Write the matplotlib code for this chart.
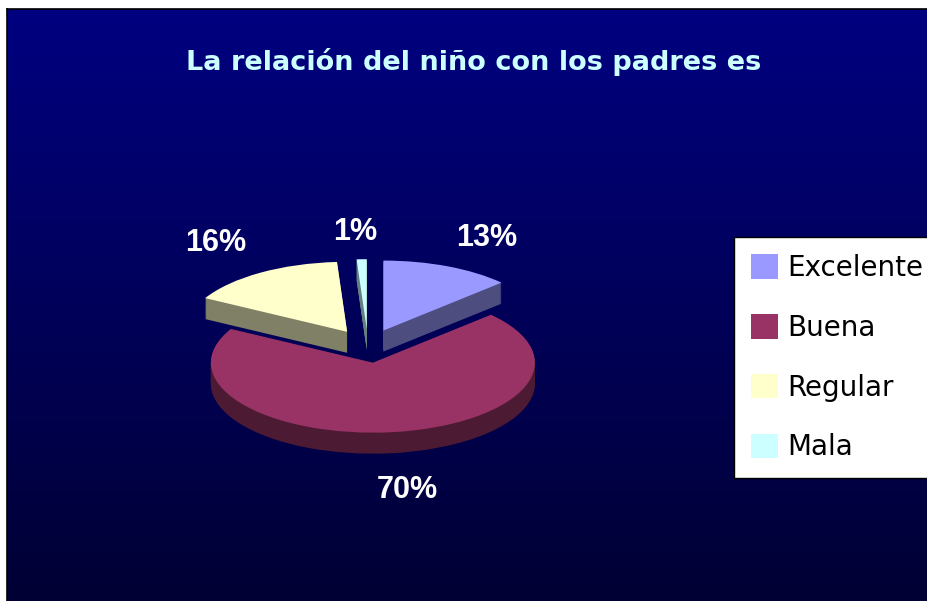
import numpy as np
import matplotlib
matplotlib.use('Agg')
import matplotlib.pyplot as plt
from matplotlib.colors import to_rgb

# chart data
title = 'La relación del niño con los padres es'
categories = ['Excelente', 'Buena', 'Regular', 'Mala']
shares = [13, 70, 16, 1]
pct_labels = ['13%', '70%', '16%', '1%']
colors = ['#9999FF', '#993366', '#FFFFCC', '#CCFFFF']

W, H = 928, 601
fig = plt.figure(figsize=(W / 100, H / 100), dpi=100, facecolor='white')

# dark blue gradient backdrop
bg = fig.add_axes([7 / W, 0, 1 - 7 / W, 1 - 9 / H])
top = np.array([0, 0, 128]) / 255.
bot = np.array([0, 0, 52]) / 255.
grad = np.linspace(0, 1, 256)[:, None, None]
img = np.repeat(top + (bot - top) * grad, 2, axis=1)
bg.imshow(img, aspect='auto', extent=[0, 1, 0, 1], origin='upper')
bg.set_xticks([])
bg.set_yticks([])
for s in ['right', 'bottom']:
    bg.spines[s].set_visible(False)
for s in ['top', 'left']:
    bg.spines[s].set_color('black')
    bg.spines[s].set_linewidth(1.2)

# pseudo-3d pie: stacked darker layers for the side, then the top
ax = fig.add_axes([0.0474, 0.1331, 0.6983, 0.5824])
n_layers = 24
depth = 0.3
explode = [0.24] * len(shares)
side_cols = [tuple(np.array(to_rgb(c)) * 0.5) for c in colors]
for k in range(n_layers, 0, -1):
    ax.pie(shares, colors=side_cols, startangle=90, counterclock=False,
           explode=explode, center=(0, -depth * k / n_layers),
           wedgeprops=dict(linewidth=0))
wedges, _ = ax.pie(shares, colors=colors, startangle=90, counterclock=False,
                   explode=explode, center=(0, 0),
                   wedgeprops=dict(linewidth=0))
ax.set_aspect('auto')
ax.set_xlim(-2, 2)
ax.set_ylim(-2.5, 2.5)
ax.axis('off')

# percentage labels
label_xy = [(0.735, 1.543), (0.24, -2.06), (-0.94, 1.47), (-0.08, 1.63)]
for t, (x, y) in zip(pct_labels, label_xy):
    ax.text(x, y, t, ha='center', va='center', color='white',
            fontsize=22, fontweight='bold', family='Liberation Sans')

fig.text(474 / W, 1 - 62 / H, title, ha='center', va='center',
         color='#CCFFFF', fontsize=19.5, fontweight='bold')

leg = fig.legend(wedges, categories, loc='upper left',
                 bbox_to_anchor=(734 / W, 1 - 237 / H), borderaxespad=0,
                 frameon=True, fancybox=False, edgecolor='black',
                 facecolor='white', framealpha=1, prop=dict(size=20),
                 handlelength=1.0, handleheight=1.0, handletextpad=0.33,
                 labelspacing=1.15, borderpad=0.6)
leg.get_frame().set_linewidth(1)

fig.savefig('out.png', dpi=100, facecolor='white')
